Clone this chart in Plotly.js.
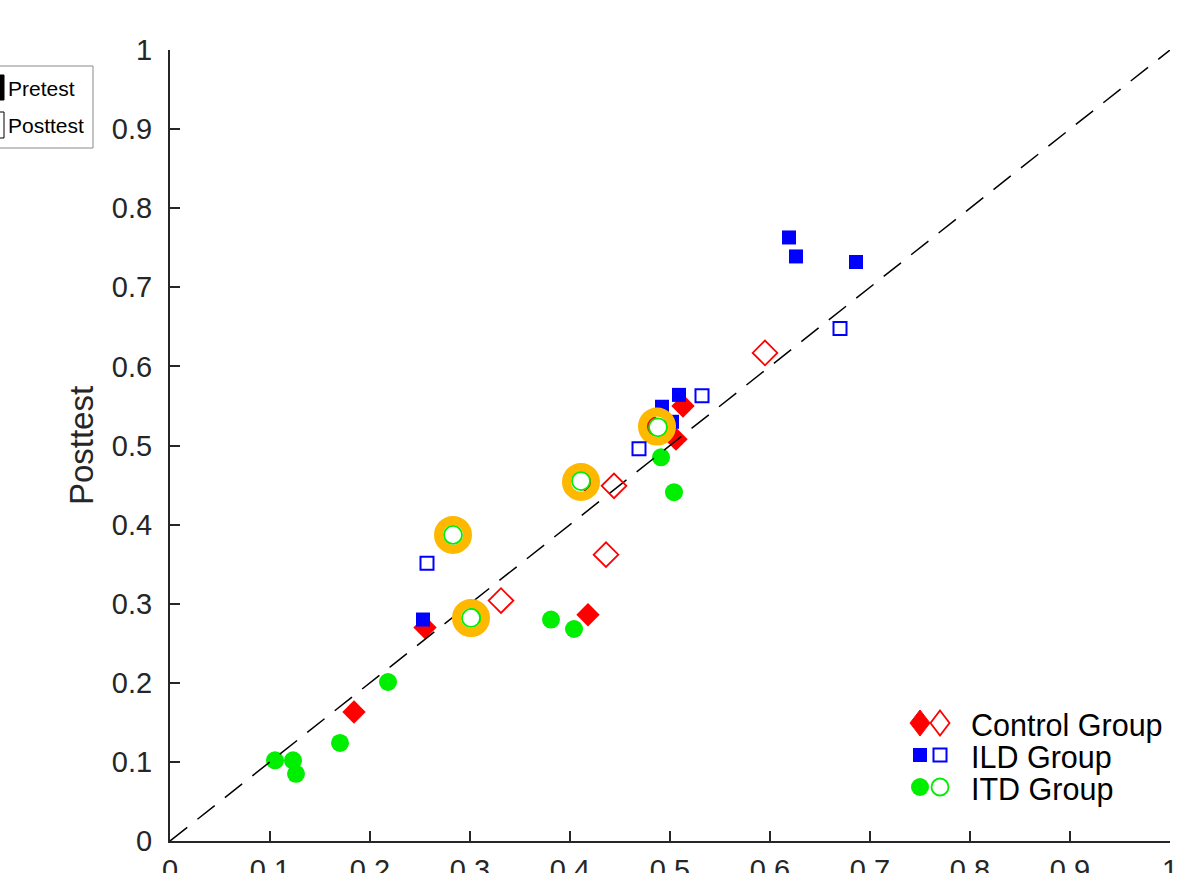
<!DOCTYPE html>
<html>
<head>
<meta charset="utf-8">
<script src="https://cdn.plot.ly/plotly-3.0.1.min.js"></script>
<style>
html,body{margin:0;padding:0;background:#fff;}
#chart{width:1180px;height:873px;}
</style>
</head>
<body>
<div id="chart"></div>
<script>
// ---- Data ----
// Control group
const controlPreX  = [0.184, 0.255, 0.418, 0.415, 0.482, 0.506, 0.513];
const controlPreY  = [0.163, 0.270, 0.286, 0.456, 0.526, 0.508, 0.550];
const controlPostX = [0.331, 0.436, 0.444, 0.595];
const controlPostY = [0.304, 0.362, 0.449, 0.617];
// ILD group
const ildPreX  = [0.253, 0.492, 0.502, 0.509, 0.619, 0.626, 0.686];
const ildPreY  = [0.280, 0.549, 0.530, 0.564, 0.763, 0.739, 0.732];
const ildPostX = [0.257, 0.469, 0.532, 0.670];
const ildPostY = [0.351, 0.496, 0.563, 0.648];
// ITD group
const itdPreX  = [0.105, 0.123, 0.126, 0.170, 0.218, 0.306, 0.381, 0.404, 0.491, 0.504];
const itdPreY  = [0.102, 0.102, 0.085, 0.124, 0.201, 0.286, 0.280, 0.268, 0.485, 0.441];
const itdPostX = [0.283, 0.301, 0.411, 0.488];
const itdPostY = [0.387, 0.282, 0.455, 0.523];
// Highlighted (ringed) points
const ringX = [0.283, 0.301, 0.411, 0.487];
const ringY = [0.387, 0.282, 0.454, 0.524];
// Reference line y = x
const refX = [0, 1];
const refY = [0, 1];
// Ticks
const tickVals = [0, 0.1, 0.2, 0.3, 0.4, 0.5, 0.6, 0.7, 0.8, 0.9, 1];
const tickText = ['0', '0.1', '0.2', '0.3', '0.4', '0.5', '0.6', '0.7', '0.8', '0.9', '1'];
// Legend texts
const groupNames = ['Control Group', 'ILD Group', 'ITD Group'];
const phaseNames = ['Pretest', 'Posttest'];

const RED = '#FF0000', BLUE = '#0000FF', GREEN = '#00EE00', ORANGE = '#FFB800';
const FONT = 'Liberation Sans, Arial, Helvetica, sans-serif';
const AX = '#262626';

const traces = [
  {x: controlPreX, y: controlPreY, type: 'scatter', mode: 'markers', showlegend: false,
   marker: {symbol: 'diamond', size: 18, color: RED, line: {width: 0}}},
  {x: ildPreX, y: ildPreY, type: 'scatter', mode: 'markers', showlegend: false,
   marker: {symbol: 'square', size: 14, color: BLUE, line: {width: 0}}},
  {x: itdPreX, y: itdPreY, type: 'scatter', mode: 'markers', showlegend: false,
   marker: {symbol: 'circle', size: 18, color: GREEN, line: {width: 0}}},
  {x: refX, y: refY, type: 'scatter', mode: 'lines', showlegend: false,
   line: {color: '#000', width: 1.5, dash: '22px,13px'}},
  {x: ringX, y: ringY, type: 'scatter', mode: 'markers', showlegend: false,
   marker: {symbol: 'circle-open', size: 29, color: ORANGE, line: {width: 9, color: ORANGE}}},
  {x: controlPostX, y: controlPostY, type: 'scatter', mode: 'markers', showlegend: false,
   marker: {symbol: 'diamond-open', size: 19, color: RED, line: {width: 1.8, color: RED}}},
  {x: ildPostX, y: ildPostY, type: 'scatter', mode: 'markers', showlegend: false,
   marker: {symbol: 'square-open', size: 13, color: BLUE, line: {width: 2, color: BLUE}}},
  {x: itdPostX, y: itdPostY, type: 'scatter', mode: 'markers', showlegend: false,
   marker: {symbol: 'circle', size: 18, color: '#ffffff', line: {width: 1.8, color: GREEN}}}
];

// pixel -> paper helpers (plot area: x 170..1170, y 50..841)
const PX = x => (x - 170) / 1000;
const PY = y => (841 - y) / 791;

function diamondPath(cx, cy, w, h) {
  return 'M' + PX(cx) + ',' + PY(cy - h/2) + ' L' + PX(cx + w/2) + ',' + PY(cy) +
         ' L' + PX(cx) + ',' + PY(cy + h/2) + ' L' + PX(cx - w/2) + ',' + PY(cy) + ' Z';
}

const shapes = [
  // top-left legend box
  {type: 'rect', xref: 'paper', yref: 'paper', x0: PX(-10), x1: PX(93), y0: PY(148), y1: PY(66),
   line: {color: '#8a8a8a', width: 1}, fillcolor: 'rgba(255,255,255,1)'},
  {type: 'rect', xref: 'paper', yref: 'paper', x0: PX(-22), x1: PX(4), y0: PY(100), y1: PY(75),
   line: {color: '#000', width: 1}, fillcolor: '#000'},
  {type: 'rect', xref: 'paper', yref: 'paper', x0: PX(-22), x1: PX(4), y0: PY(138), y1: PY(112),
   line: {color: '#000', width: 1}, fillcolor: 'rgba(0,0,0,0)'},
  // bottom-right legend icons
  {type: 'path', xref: 'paper', yref: 'paper', path: diamondPath(920, 723, 20, 26),
   fillcolor: RED, line: {color: RED, width: 1}},
  {type: 'path', xref: 'paper', yref: 'paper', path: diamondPath(940, 723, 19, 25),
   fillcolor: 'rgba(0,0,0,0)', line: {color: RED, width: 1.8}},
  {type: 'rect', xref: 'paper', yref: 'paper', x0: PX(913), x1: PX(927), y0: PY(762), y1: PY(748),
   fillcolor: BLUE, line: {color: BLUE, width: 0}},
  {type: 'rect', xref: 'paper', yref: 'paper', x0: PX(933.5), x1: PX(946.5), y0: PY(761.5), y1: PY(748.5),
   fillcolor: 'rgba(0,0,0,0)', line: {color: BLUE, width: 2}},
  {type: 'circle', xref: 'paper', yref: 'paper', x0: PX(911), x1: PX(929), y0: PY(796), y1: PY(778),
   fillcolor: GREEN, line: {color: GREEN, width: 0}},
  {type: 'circle', xref: 'paper', yref: 'paper', x0: PX(931.5), x1: PX(948.5), y0: PY(795.5), y1: PY(778.5),
   fillcolor: 'rgba(0,0,0,0)', line: {color: GREEN, width: 1.8}}
];

const annotations = [
  {text: phaseNames[0], xref: 'paper', yref: 'paper', x: PX(6), y: PY(88), xanchor: 'left', yanchor: 'middle',
   showarrow: false, font: {family: FONT, size: 21, color: '#000'}},
  {text: phaseNames[1], xref: 'paper', yref: 'paper', x: PX(6), y: PY(126), xanchor: 'left', yanchor: 'middle',
   showarrow: false, font: {family: FONT, size: 21, color: '#000'}},
  {text: groupNames[0], xref: 'paper', yref: 'paper', x: PX(969), y: PY(725), xanchor: 'left', yanchor: 'middle',
   showarrow: false, font: {family: FONT, size: 30.5, color: '#000'}},
  {text: groupNames[1], xref: 'paper', yref: 'paper', x: PX(969), y: PY(757), xanchor: 'left', yanchor: 'middle',
   showarrow: false, font: {family: FONT, size: 30.5, color: '#000'}},
  {text: groupNames[2], xref: 'paper', yref: 'paper', x: PX(969), y: PY(789), xanchor: 'left', yanchor: 'middle',
   showarrow: false, font: {family: FONT, size: 30.5, color: '#000'}}
];

const axisCommon = {
  range: [0, 1], tickmode: 'array', tickvals: tickVals, ticktext: tickText,
  showgrid: false, zeroline: false, showline: true, linecolor: AX, linewidth: 2,
  ticks: 'inside', ticklen: 10, tickwidth: 2, tickcolor: AX, mirror: false,
  tickfont: {family: FONT, size: 29, color: AX}, fixedrange: true
};

const layout = {
  width: 1180, height: 873,
  margin: {l: 170, r: 10, t: 50, b: 32, autoexpand: false},
  paper_bgcolor: '#fff', plot_bgcolor: '#fff',
  showlegend: false,
  xaxis: Object.assign({}, axisCommon, {ticklabelstandoff: 2, automargin: false}),
  yaxis: Object.assign({}, axisCommon, {ticklabelstandoff: 10, automargin: false,
    title: {text: 'Posttest', font: {family: FONT, size: 33, color: AX}, standoff: 8}}),
  shapes: shapes,
  annotations: annotations
};

Plotly.newPlot('chart', traces, layout, {displayModeBar: false, staticPlot: true});
</script>
</body>
</html>
